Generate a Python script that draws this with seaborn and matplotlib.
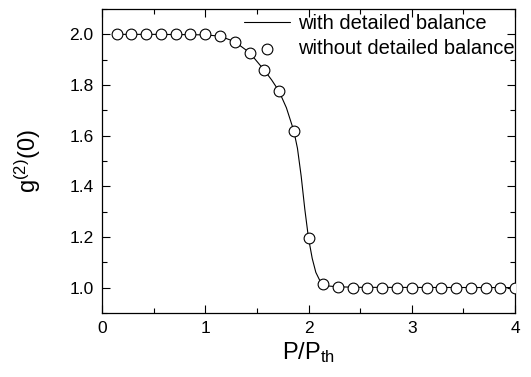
import matplotlib
matplotlib.use("Agg")
import matplotlib.pyplot as plt
import seaborn as sns
import pandas as pd
from matplotlib.ticker import MultipleLocator

# Normalized pump power P/P_th and second-order correlation g2(0)
p_ratio = [0.143, 0.286, 0.429, 0.571, 0.714, 0.857, 1.0, 1.143, 1.286, 1.429,
           1.571, 1.714, 1.857, 2.0, 2.143, 2.286, 2.429, 2.571, 2.714, 2.857,
           3.0, 3.143, 3.286, 3.429, 3.571, 3.714, 3.857, 4.0]
g2_without = [2.0, 2.0, 2.0, 2.0, 2.0, 2.0, 2.0, 1.993, 1.971, 1.928,
              1.859, 1.776, 1.620, 1.195, 1.014, 1.004, 1.0, 1.0, 1.0, 1.0,
              1.0, 1.0, 1.0, 1.0, 1.0, 1.0, 1.0, 1.0]

# Curve for the model with detailed balance
line_x = [0.143, 0.5, 0.8, 1.0, 1.143, 1.286, 1.429, 1.571, 1.643, 1.714,
          1.786, 1.857, 1.893, 1.929, 1.964, 2.0, 2.036, 2.071, 2.107, 2.143,
          2.2, 2.286, 2.5, 4.0]
line_y = [2.0, 2.0, 1.999, 1.998, 1.993, 1.971, 1.928, 1.859, 1.82, 1.776,
          1.71, 1.620, 1.55, 1.44, 1.31, 1.195, 1.115, 1.06, 1.03, 1.014,
          1.006, 1.003, 1.001, 1.0]

sns.set_style("ticks")
plt.rcParams["font.family"] = ["Liberation Sans", "DejaVu Sans"]
plt.rcParams["mathtext.fontset"] = "custom"
plt.rcParams["mathtext.rm"] = "Liberation Sans"
plt.rcParams["mathtext.it"] = "Liberation Sans"
plt.rcParams["text.color"] = "black"
plt.rcParams["axes.labelcolor"] = "black"

fig = plt.figure(figsize=(5.31, 3.77), dpi=100)
ax = fig.add_axes([0.192, 0.170, 0.778, 0.806])

df_line = pd.DataFrame({"x": line_x, "y": line_y})
df_pts = pd.DataFrame({"x": p_ratio, "y": g2_without})

sns.lineplot(data=df_line, x="x", y="y", ax=ax, color="black", linewidth=0.8,
             label="with detailed balance", zorder=2)
sns.scatterplot(data=df_pts, x="x", y="y", ax=ax, marker="o", s=60,
                facecolor="white", edgecolor="black", linewidth=0.8,
                label="without detailed balance", zorder=3)

ax.set_xlim(0, 4)
ax.set_ylim(0.9, 2.1)
ax.xaxis.set_major_locator(MultipleLocator(1))
ax.xaxis.set_minor_locator(MultipleLocator(0.5))
ax.yaxis.set_major_locator(MultipleLocator(0.2))
ax.yaxis.set_minor_locator(MultipleLocator(0.1))
ax.tick_params(which="both", direction="in", top=True, right=True,
               labelsize=12.5, width=0.8, colors="black")
ax.tick_params(which="major", length=6, pad=6)
ax.tick_params(which="minor", length=3.5)
for s in ax.spines.values():
    s.set_linewidth(0.9)
    s.set_color("black")

ax.set_xlabel("P/P$_{\\mathrm{th}}$", fontsize=17, labelpad=3)
ax.set_ylabel("g$^{(2)}$(0)", fontsize=17, labelpad=19)

leg = ax.legend(loc="upper right", bbox_to_anchor=(1.005, 0.99), frameon=False,
                fontsize=14.5, handlelength=2.3, handletextpad=0.4,
                labelspacing=0.3, borderaxespad=0.0, borderpad=0.1)

fig.savefig("out.png", dpi=100)
